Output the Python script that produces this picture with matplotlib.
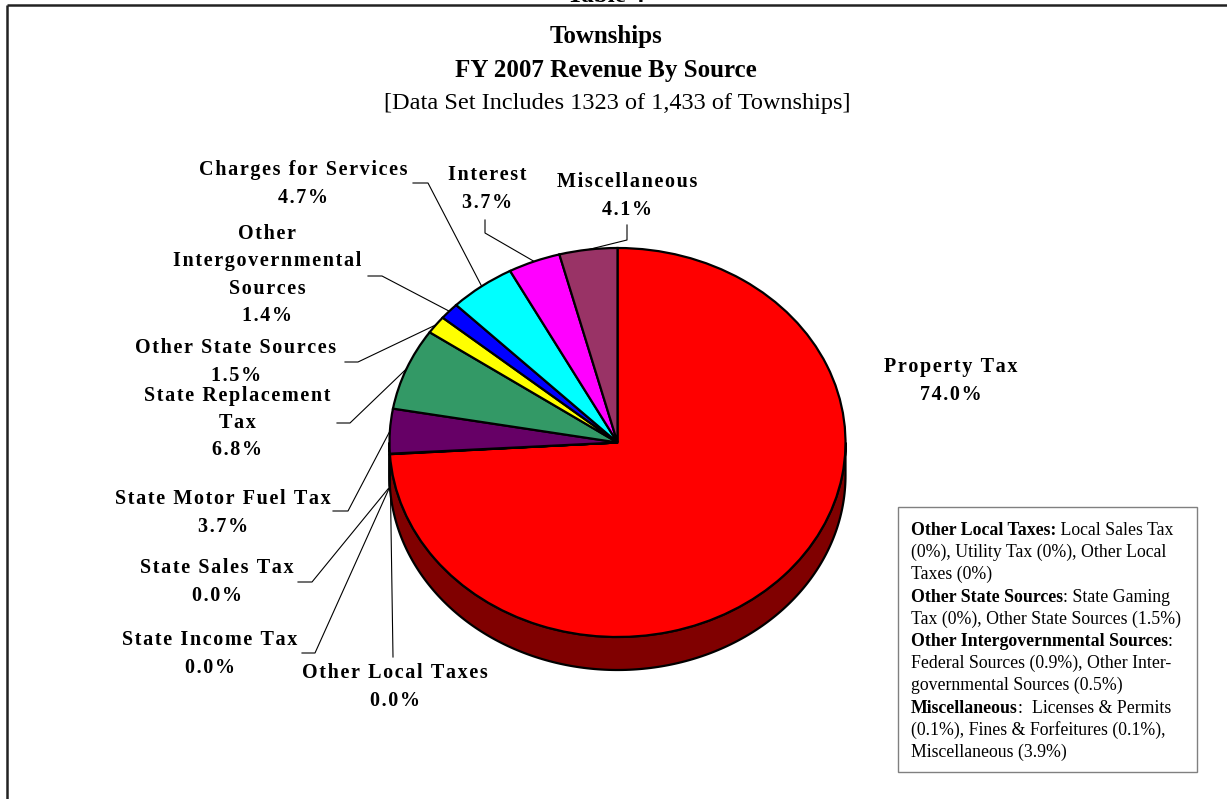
import matplotlib
matplotlib.use('Agg')
import matplotlib.pyplot as plt
import matplotlib.colors as mcolors
from matplotlib.patches import Polygon, Rectangle
import numpy as np

# ---------------- data ----------------
categories = ["Property Tax", "Other Local Taxes", "State Income Tax", "State Sales Tax",
              "State Motor Fuel Tax", "State Replacement Tax", "Other State Sources",
              "Other Intergovernmental Sources", "Charges for Services", "Interest",
              "Miscellaneous"]
values = [74.0, 0.04, 0.0, 0.0, 3.7, 6.8, 1.5, 1.4, 4.7, 3.7, 4.1]
colors = ["#FF0000", "#CC99FF", "#000080", "#FFCC99", "#660066", "#339966", "#FFFF00",
          "#0000FF", "#00FFFF", "#FF00FF", "#993366"]
label_text = {"Other Intergovernmental Sources": "Other\nIntergovernmental\nSources",
              "State Replacement Tax": "State Replacement\nTax"}

title_lines = ["Townships", "FY 2007 Revenue By Source"]
subtitle = "[Data Set Includes 1323 of 1,433 of Townships]"
table_title = "Table 4"

note_bold = ["Other Local Taxes:", "", "", "Other State Sources", "",
             "Other Intergovernmental Sources", "", "", "Miscellaneous", "", ""]
note_regular = [" Local Sales Tax", "(0%), Utility Tax (0%), Other Local", "Taxes (0%)",
                ": State Gaming", "Tax (0%), Other State Sources (1.5%)", ":",
                "Federal Sources (0.9%), Other Inter-", "governmental Sources (0.5%)",
                ":  Licenses & Permits", "(0.1%), Fines & Forfeitures (0.1%),",
                "Miscellaneous (3.9%)"]

# ---------------- layout (pixels) ----------------
W, H = 1227, 799
CX, CY, RX, RY, DEPTH = 617.5, 442.5, 228.0, 194.5, 33.0
label_pos = [(951, 381), (395, 687), (210, 654), (217, 582), (223, 513), (237, 423),
             (236, 362), (267, 275), (303, 184), (487, 189), (627, 196)]
leader_pts = [None, [(393, 657), (393, 657)], [(302, 653), (315, 653)],
              [(298, 582), (312, 582)], [(333, 511), (348, 511)], [(337, 423), (350, 423)],
              [(345, 362), (358, 362)], [(368, 276), (382, 276)], [(413, 183), (428, 183)],
              [(485, 220), (485, 233)], [(627, 225), (627, 240)]]
leader_drop = [0, 0, 1, 1, 0, 0, 0, 0, 0, 0, 0]

SERIF = ['Liberation Serif', 'DejaVu Serif']


def spaced(s):
    return "\n".join("\u200a".join(line) for line in s.split("\n"))


fig = plt.figure(figsize=(W / 100, H / 100), dpi=100)
ax0 = fig.add_axes([0, 0, 1, 1])
ax0.set_xlim(0, W)
ax0.set_ylim(H, 0)
ax0.axis('off')

# pie axes (ellipse via unequal scaling)
d = DEPTH / RY
axp = fig.add_axes([(CX - RX) / W, 1 - (CY + RY + DEPTH) / H, 2 * RX / W, (2 * RY + DEPTH) / H])
wedges, _ = axp.pie(values, colors=colors, startangle=90, counterclock=False,
                    wedgeprops=dict(edgecolor='black', linewidth=1.6), normalize=True)
for w in wedges:
    w.set_clip_on(False)
axp.set_aspect('auto')
axp.set_xlim(-1, 1)
axp.set_ylim(-1 - d, 1)
axp.axis('off')

# 3D side
for w, c in zip(wedges, colors):
    t1, t2 = w.theta1, w.theta2
    for k in (-360, 0, 360):
        a = max(t1, -180 + k)
        b = min(t2, k)
        if b - a > 1e-6:
            t = np.radians(np.linspace(a, b, 200))
            xs = np.concatenate([np.cos(t), np.cos(t[::-1])])
            ys = np.concatenate([np.sin(t), np.sin(t[::-1]) - d])
            dark = tuple(0.5 * np.array(mcolors.to_rgb(c)))
            axp.add_patch(Polygon(np.column_stack([xs, ys]), closed=True, facecolor=dark,
                                  edgecolor='black', linewidth=1.6, zorder=0, clip_on=False))

# labels and leader lines
for i, (name, val, w) in enumerate(zip(categories, values, wedges)):
    txt = label_text.get(name, name) + f"\n{val:.1f}%"
    x, y = label_pos[i]
    ax0.text(x, y, spaced(txt), ha='center', va='center', fontsize=14.5, fontweight='bold',
             family=SERIF, linespacing=1.48, color='black')
    pts = leader_pts[i]
    if pts is not None:
        tm = np.radians((w.theta1 + w.theta2) / 2)
        ex = CX + RX * np.cos(tm)
        ey = CY - RY * np.sin(tm) + leader_drop[i] * DEPTH
        xs = [pts[0][0], pts[1][0], ex]
        ys = [pts[0][1], pts[1][1], ey]
        ax0.plot(xs, ys, color='black', lw=0.8)

# titles
ax0.text(606, 2.5, table_title, ha='center', va='baseline', fontsize=18, fontweight='bold', family=SERIF)
ax0.text(606, 37, title_lines[0], ha='center', va='center', fontsize=18, fontweight='bold', family=SERIF)
ax0.text(606, 70, title_lines[1], ha='center', va='center', fontsize=18, fontweight='bold', family=SERIF)
ax0.text(617, 103, subtitle, ha='center', va='center', fontsize=17.5, family=SERIF)

# frame
ax0.plot([7, W], [5, 5], color='#222222', lw=1.8, solid_capstyle='butt')
ax0.plot([7, 7], [5, H], color='#222222', lw=1.8, solid_capstyle='butt')

# note box
ax0.add_patch(Rectangle((898, 507), 299, 265, facecolor='white', edgecolor='#808080', lw=1.0))
fig.canvas.draw()
renderer = fig.canvas.get_renderer()
x0 = 911
y0 = 535
dy = 22.2
inv = ax0.transData.inverted()
for i, (b, r) in enumerate(zip(note_bold, note_regular)):
    y = y0 + i * dy
    xr = x0
    if b:
        tb = ax0.text(x0, y, b, ha='left', va='baseline', fontsize=12.8, fontweight='bold', family=SERIF)
        bb = tb.get_window_extent(renderer)
        xr = inv.transform((bb.x1, bb.y0))[0]
    ax0.text(xr, y, r, ha='left', va='baseline', fontsize=12.8, family=SERIF)

fig.savefig('out.png', dpi=100)
